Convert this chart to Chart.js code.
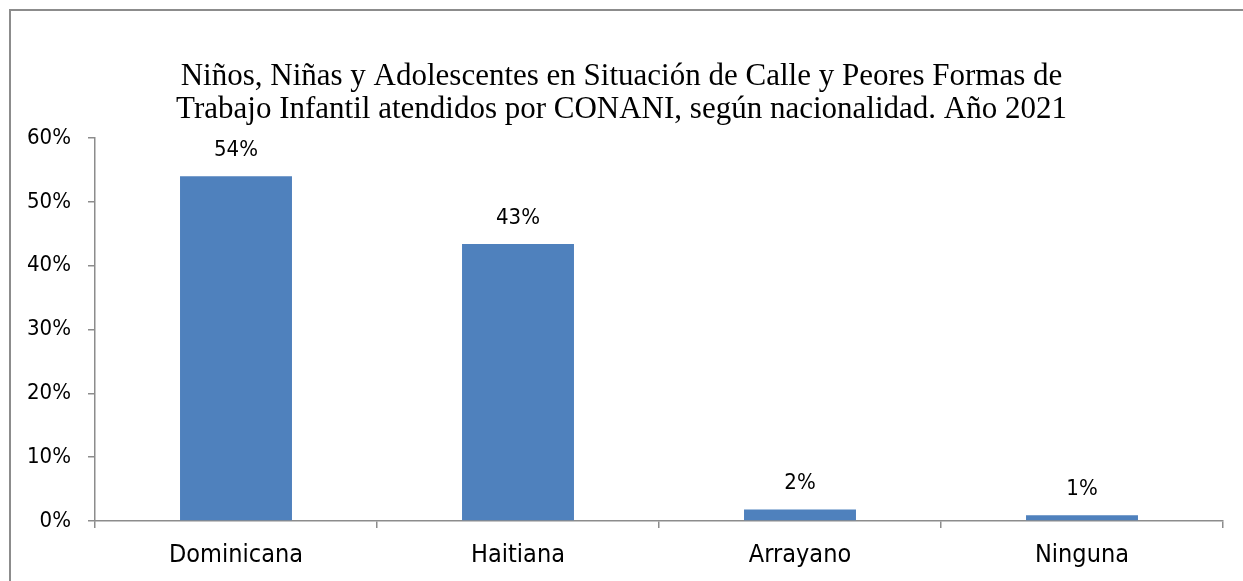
<!DOCTYPE html>
<html>
<head>
<meta charset="utf-8">
<script src="https://cdn.jsdelivr.net/npm/chart.js@4.4.1/dist/chart.umd.min.js"></script>
<style>
  html, body { margin: 0; padding: 0; background: #fff; overflow: hidden; }
  #wrap { position: relative; width: 1243px; height: 581px; }
  #frame { position: absolute; left: 9px; top: 9px; width: 1400px; height: 800px;
           border-left: 2px solid #8c8c8c; border-top: 2px solid #8c8c8c; }
  canvas { position: absolute; left: 0; top: 0; }
</style>
</head>
<body>
<div id="wrap">
  <div id="frame"></div>
  <canvas id="c" width="1243" height="581"></canvas>
</div>
<script>
const titleLines = [
  "Niños, Niñas y Adolescentes en Situación de Calle y Peores Formas de",
  "Trabajo Infantil atendidos por CONANI, según nacionalidad. Año 2021"
];
const categories = ["Dominicana", "Haitiana", "Arrayano", "Ninguna"];
const values = [54.0, 43.4, 1.8, 0.9];
const yTickMax = 60;
const yTickStep = 10;

const sansFont = "'DejaVu Sans Condensed', 'DejaVu Sans', sans-serif";

const dataLabels = {
  id: 'dataLabels',
  afterDatasetsDraw(chart) {
    const ctx = chart.ctx;
    const meta = chart.getDatasetMeta(0);
    ctx.save();
    ctx.font = "22px " + sansFont;
    ctx.fillStyle = '#000';
    ctx.textAlign = 'center';
    ctx.textBaseline = 'middle';
    meta.data.forEach((bar, i) => {
      ctx.fillText(Math.round(values[i]) + '%', bar.x, bar.y - 26);
    });
    ctx.restore();
  }
};

new Chart(document.getElementById('c'), {
  type: 'bar',
  data: {
    labels: categories,
    datasets: [{
      data: values,
      backgroundColor: '#4F81BD',
      borderWidth: 0,
      barPercentage: 0.397,
      categoryPercentage: 1.0
    }]
  },
  options: {
    responsive: false,
    devicePixelRatio: 1,
    animation: false,
    layout: { padding: { left: 20, right: 20, top: 0, bottom: 0 } },
    plugins: {
      legend: { display: false },
      tooltip: { enabled: false },
      title: {
        display: true,
        text: titleLines,
        color: '#000',
        font: { family: "'Liberation Serif', 'Times New Roman', serif", size: 31, weight: 'normal', lineHeight: 1.065 },
        padding: { top: 60.5, bottom: 11.5 }
      }
    },
    scales: {
      x: {
        grid: { display: true, drawOnChartArea: false, drawTicks: true, tickLength: 7, color: '#8c8c8c', lineWidth: 1.5, offset: true },
        border: { display: true, color: '#8c8c8c', width: 1.5 },
        ticks: { color: '#000', font: { family: sansFont, size: 25 }, padding: 12 },
        afterFit(s) { s.height = 60; }
      },
      y: {
        min: 0,
        max: yTickMax,
        grid: { display: true, drawOnChartArea: false, drawTicks: true, tickLength: 7, color: '#8c8c8c', lineWidth: 1.5 },
        border: { display: true, color: '#8c8c8c', width: 1.5 },
        ticks: {
          stepSize: yTickStep,
          color: '#000',
          font: { family: sansFont, size: 22 },
          padding: 17,
          callback: v => v + '%'
        },
        afterFit(s) { s.width = 75; }
      }
    }
  },
  plugins: [dataLabels]
});
</script>
</body>
</html>
